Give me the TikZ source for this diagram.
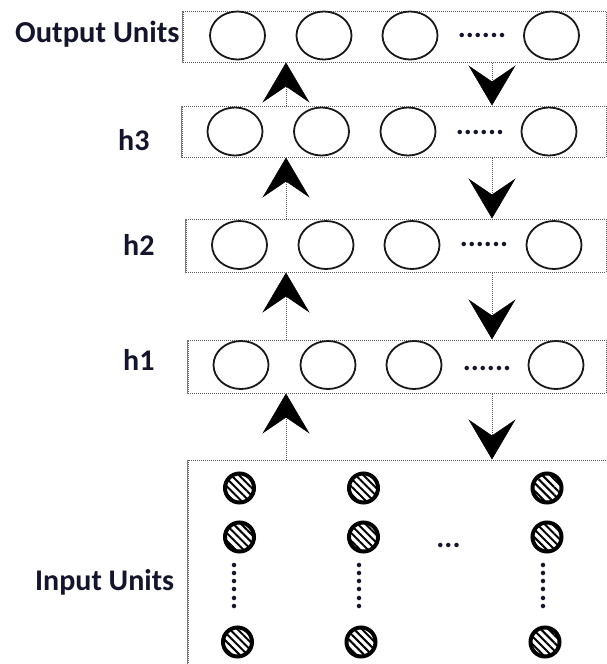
\documentclass[tikz,border=0pt]{standalone}
\usepackage{fontspec}
\setmainfont{Carlito}
\usetikzlibrary{arrows.meta,shapes.geometric,patterns.meta}
\definecolor{boxgray}{RGB}{90,90,90}
\definecolor{txt}{RGB}{20,20,45}
\tikzset{
  lbl/.style={font=\fontsize{30}{35}\selectfont\bfseries, text=txt, inner sep=0pt, anchor=base west},
  dotstxt/.style={font=\fontsize{30}{34}\selectfont\bfseries, text=txt, inner sep=0pt, anchor=base},
  layerbox/.style={draw=boxgray, densely dotted, line width=1pt, fill=white, inner sep=0pt, rectangle},
  boxedge/.style={draw=boxgray!80, line width=1pt},
  unit/.style={draw=black!90, line width=1.8pt, ellipse, inner sep=0pt, minimum width=55pt, minimum height=48pt},
  inunit/.style={draw=black, line width=4pt, circle, inner sep=0pt, minimum size=29pt,
    pattern={Lines[angle=-45,distance=5.5pt,line width=2pt]}},
  conn/.style={draw=boxgray, densely dotted, line width=1pt,
    -{Stealth[length=40pt,width=47pt,inset=16pt,black,line width=0.5pt]}},
}
\begin{document}
\begin{tikzpicture}[x=1pt,y=-1pt]
\useasboundingbox (0,0) rectangle (607,664);
% labels
\node[lbl, font=\fontsize{30.5}{35}\selectfont\bfseries] (lout) at (15,42) {Output Units};
\node[lbl] (lh3) at (118,150) {h3};
\node[lbl] (lh2) at (123,255) {h2};
\node[lbl] (lh1) at (123,370) {h1};
\node[lbl] (lin) at (35,590) {Input Units};
% boxes
\node[layerbox, minimum width=423pt, minimum height=51pt] (outbox) at (394.5,36.5) {};
\node[layerbox, minimum width=424pt, minimum height=51pt] (h3box) at (394,131.5) {};
\node[layerbox, minimum width=420pt, minimum height=53pt] (h2box) at (396,245.5) {};
\node[layerbox, minimum width=418pt, minimum height=53pt] (h1box) at (397,366.5) {};
\node[layerbox, minimum width=432pt, minimum height=220pt] (inbox) at (404,570) {};
\foreach \b in {outbox,h3box,h2box,h1box,inbox}
  \draw[boxedge] (\b.north west) -- (\b.south west);
% output units
\node[unit] (o1) at (237.5,35.5) {};
\node[unit] (o2) at (324,35.5) {};
\node[unit] (o3) at (410,35.5) {};
\node[dotstxt] (od) at (482,37.5) {......};
\node[unit] (o4) at (551.5,35.5) {};
% h3
\node[unit] (a1) at (235,131.5) {};
\node[unit] (a2) at (321.5,131.5) {};
\node[unit] (a3) at (408,131.5) {};
\node[dotstxt] (ad) at (480,134.5) {......};
\node[unit] (a4) at (549,131.5) {};
% h2
\node[unit] (b1) at (239.5,245) {};
\node[unit] (b2) at (326,245) {};
\node[unit] (b3) at (412,245) {};
\node[dotstxt] (bd) at (484,246.5) {......};
\node[unit] (b4) at (554,245) {};
% h1
\node[unit] (c1) at (241,365) {};
\node[unit] (c2) at (328,365) {};
\node[unit] (c3) at (414,365) {};
\node[dotstxt] (cd) at (487,370.5) {......};
\node[unit] (c4) at (556,365) {};
% input units
\node[inunit] (i11) at (239.5,488) {};
\node[inunit] (i12) at (363.5,488) {};
\node[inunit] (i13) at (547,488) {};
\node[inunit] (i21) at (239.5,537) {};
\node[inunit] (i22) at (363.5,537) {};
\node[inunit] (i23) at (547,537) {};
\node[inunit] (i31) at (237.5,642) {};
\node[inunit] (i32) at (361,642) {};
\node[inunit] (i33) at (545,642) {};
\node[dotstxt] (ihd) at (448.5,547.5) {...};
\node[dotstxt, rotate=-90] (iv1) at (232,586) {......};
\node[dotstxt, rotate=-90] (iv2) at (357,586) {......};
\node[dotstxt, rotate=-90] (iv3) at (541,586) {......};
% connectors
\coordinate (ux) at (286,0);
\coordinate (dx) at (492,0);
\draw[conn] (h3box.north -| ux) -- (outbox.south -| ux);
\draw[conn] (h2box.north -| ux) -- (h3box.south -| ux);
\draw[conn] (h1box.north -| ux) -- (h2box.south -| ux);
\draw[conn] (inbox.north -| ux) -- (h1box.south -| ux);
\draw[conn] (outbox.south -| dx) -- (h3box.north -| dx);
\draw[conn] (h3box.south -| dx) -- (h2box.north -| dx);
\draw[conn] (h2box.south -| dx) -- (h1box.north -| dx);
\draw[conn] (h1box.south -| dx) -- (inbox.north -| dx);
\end{tikzpicture}
\end{document}
